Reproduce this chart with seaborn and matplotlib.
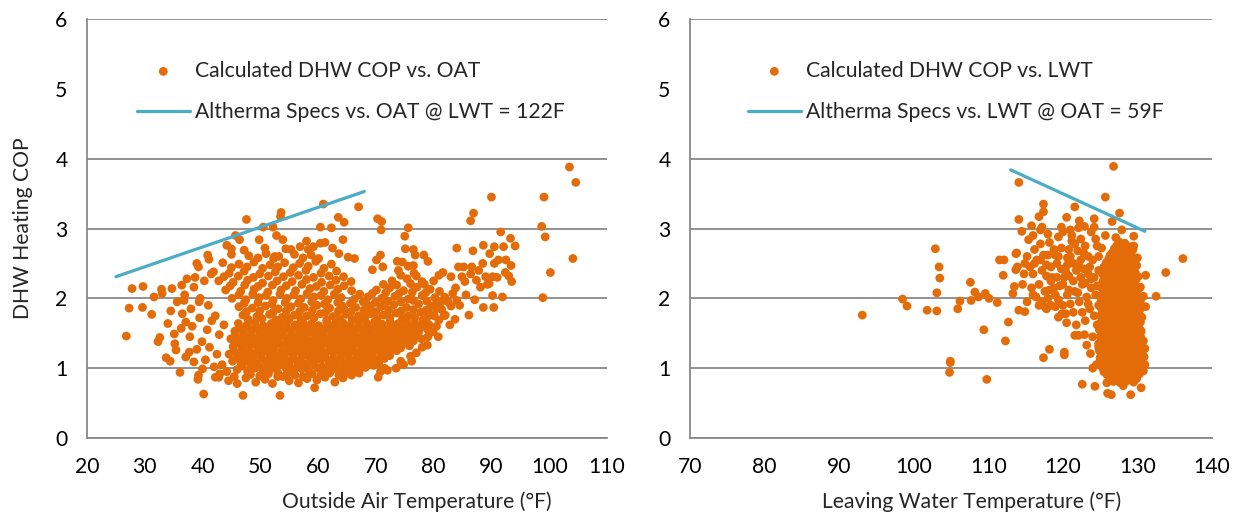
import matplotlib
matplotlib.use("Agg")
import matplotlib.pyplot as plt
import seaborn as sns
import pandas as pd

# ---------------- data ----------------
# Left panel: Calculated DHW COP vs. outside air temperature (OAT, F)
oat_outer = [
    (103.5, 3.88), (104.6, 3.66), (99.1, 3.45), (98.7, 3.03), (99.3, 2.88), (104.1, 2.57),
    (100.2, 2.37), (98.9, 2.01), (90.0, 3.45), (86.9, 3.22), (86.4, 3.11), (67.0, 3.31),
    (60.9, 3.35), (53.6, 3.23), (53.5, 3.17), (47.6, 3.13), (63.5, 3.16), (64.5, 3.09),
    (70.3, 3.14), (71.0, 3.10), (70.9, 2.98), (75.6, 3.01), (75.0, 2.89), (91.6, 2.95),
    (93.3, 2.86), (94.1, 2.75), (92.1, 2.74), (88.6, 2.76), (86.8, 2.68), (84.0, 2.72),
    (93.4, 2.47), (93.5, 2.24), (91.9, 2.02), (90.2, 2.04), (90.4, 1.87), (88.6, 1.87),
    (87.1, 1.98), (86.1, 1.76), (83.7, 1.70), (82.8, 1.62), (80.8, 1.45), (78.9, 1.33),
    (74.3, 1.10), (76.0, 1.17), (70.4, 0.87), (59.4, 0.72), (53.4, 0.61), (47.0, 0.61),
    (40.2, 0.63), (36.1, 0.94), (39.2, 0.84), (40.0, 0.99), (33.7, 1.15), (34.4, 1.10),
    (32.3, 1.38), (32.6, 1.44), (26.8, 1.46), (27.3, 1.86), (27.8, 2.14), (29.7, 2.17),
    (29.6, 1.87), (31.2, 1.77), (31.6, 2.02), (32.9, 2.13), (33.0, 2.07), (34.7, 2.14),
    (34.0, 1.64), (35.1, 1.49), (35.2, 1.35), (35.4, 1.26), (37.1, 1.66), (36.3, 1.57),
    (36.8, 1.97), (37.3, 2.28), (36.4, 2.19), (38.5, 2.16), (37.7, 1.23), (37.1, 1.16),
    (39.0, 1.27), (38.5, 1.09), (39.3, 0.90), (42.2, 0.87), (42.8, 0.87), (39.0, 2.50),
    (39.3, 2.45), (40.9, 2.62), (41.1, 2.56), (44.2, 2.76), (45.0, 2.71), (45.7, 2.90),
    (46.4, 2.84), (47.2, 2.69), (49.8, 2.84), (50.5, 3.02), (52.2, 3.02), (52.8, 2.90),
    (53.9, 2.84), (52.5, 2.60), (54.4, 2.71), (56.9, 2.74), (58.0, 2.82), (58.3, 2.70),
    (60.4, 3.02), (62.3, 3.01), (60.4, 2.79), (61.2, 2.80), (62.5, 2.72), (64.3, 2.84),
    (65.2, 2.59), (66.3, 2.57), (69.4, 2.41), (70.1, 2.55), (70.8, 2.62), (71.2, 2.45),
    (73.7, 2.53), (75.1, 2.71), (76.5, 2.70), (76.8, 2.62), (78.3, 2.62), (79.0, 2.53),
    (76.5, 2.47), (80.9, 2.33), (81.6, 2.37), (83.0, 2.31), (84.3, 2.45), (85.2, 2.45),
    (86.6, 2.45), (87.4, 2.26), (88.1, 2.16), (89.0, 2.31), (89.6, 2.21), (90.2, 2.31),
    (90.5, 2.50), (91.2, 2.55), (89.7, 2.64), (90.5, 2.74), (92.4, 2.37), (93.0, 2.32),
    (84.9, 2.31), (85.4, 2.24), (83.3, 2.07), (84.0, 1.97), (83.0, 1.89), (82.0, 1.76),
    (80.9, 1.69),
]
oat_core = [
    (47.5, 0.86), (49.2, 0.80), (50.8, 0.84), (52.1, 0.78), (53.9, 0.88), (55.0, 0.82),
    (56.6, 0.79), (58.1, 0.85), (59.8, 0.83), (61.2, 0.87), (62.9, 0.80), (64.3, 0.86),
    (65.8, 0.90), (67.1, 0.93),
    (46.0, 0.98), (47.8, 0.95), (49.1, 1.00), (50.5, 0.96), (51.7, 0.99), (53.0, 0.94),
    (54.4, 1.01), (55.8, 0.96), (57.2, 0.99), (58.5, 0.95), (60.0, 1.00), (61.4, 0.96),
    (62.7, 0.99), (64.1, 0.97), (65.5, 1.02), (66.9, 0.98), (68.2, 1.01), (69.6, 1.04),
    (45.2, 1.10), (46.7, 1.07), (48.1, 1.09), (49.5, 1.06), (50.9, 1.10), (52.3, 1.08),
    (53.6, 1.11), (55.0, 1.07), (56.4, 1.10), (57.8, 1.06), (59.1, 1.09), (60.5, 1.12),
    (61.9, 1.08), (63.2, 1.10), (64.6, 1.07), (66.0, 1.11), (67.4, 1.09), (68.8, 1.12),
    (70.1, 1.10), (71.5, 1.14),
    (44.6, 1.20), (46.1, 1.18), (47.4, 1.21), (48.8, 1.17), (50.2, 1.20), (51.6, 1.22),
    (52.9, 1.18), (54.3, 1.21), (55.7, 1.19), (57.1, 1.22), (58.4, 1.18), (59.8, 1.21),
    (61.2, 1.19), (62.6, 1.23), (63.9, 1.18), (65.3, 1.21), (66.7, 1.19), (68.1, 1.22),
    (69.4, 1.20), (70.8, 1.24), (72.2, 1.21), (73.6, 1.25),
    (45.3, 1.31), (46.8, 1.29), (48.2, 1.32), (49.6, 1.28), (51.0, 1.31), (52.4, 1.30),
    (53.7, 1.33), (55.1, 1.29), (56.5, 1.32), (57.9, 1.30), (59.2, 1.28), (60.6, 1.33),
    (62.0, 1.30), (63.4, 1.32), (64.7, 1.29), (66.1, 1.33), (67.5, 1.31), (68.9, 1.34),
    (70.2, 1.30), (71.6, 1.33), (73.0, 1.31), (74.4, 1.35), (75.8, 1.32),
    (44.9, 1.42), (46.4, 1.40), (47.8, 1.43), (49.2, 1.39), (50.6, 1.42), (52.0, 1.41),
    (53.3, 1.44), (54.7, 1.40), (56.1, 1.43), (57.5, 1.41), (58.8, 1.39), (60.2, 1.44),
    (61.6, 1.41), (63.0, 1.43), (64.3, 1.40), (65.7, 1.44), (67.1, 1.42), (68.5, 1.45),
    (69.8, 1.41), (71.2, 1.44), (72.6, 1.42), (74.0, 1.46), (75.4, 1.43), (76.8, 1.47),
    (45.6, 1.53), (47.1, 1.51), (48.5, 1.54), (49.9, 1.50), (51.3, 1.53), (52.7, 1.52),
    (54.0, 1.55), (55.4, 1.51), (56.8, 1.54), (58.2, 1.52), (59.5, 1.50), (60.9, 1.55),
    (62.3, 1.52), (63.7, 1.54), (65.0, 1.51), (66.4, 1.55), (67.8, 1.53), (69.2, 1.56),
    (70.5, 1.52), (71.9, 1.55), (73.3, 1.53), (74.7, 1.57), (76.1, 1.54), (77.5, 1.58),
    (46.2, 1.64), (47.7, 1.62), (49.1, 1.65), (50.5, 1.61), (51.9, 1.64), (53.3, 1.63),
    (54.6, 1.66), (56.0, 1.62), (57.4, 1.65), (58.8, 1.63), (60.1, 1.61), (61.5, 1.66),
    (62.9, 1.63), (64.3, 1.65), (65.6, 1.62), (67.0, 1.66), (68.4, 1.64), (69.8, 1.67),
    (71.1, 1.63), (72.5, 1.66), (73.9, 1.64), (75.3, 1.68), (76.7, 1.65), (78.1, 1.69),
    (47.0, 1.76), (49.4, 1.74), (51.6, 1.77), (53.8, 1.73), (55.9, 1.76), (58.1, 1.75),
    (60.4, 1.78), (62.6, 1.74), (64.8, 1.77), (67.0, 1.75), (69.1, 1.78), (71.3, 1.76),
    (73.5, 1.79), (75.6, 1.75), (77.8, 1.80), (79.5, 1.77),
    (46.3, 1.88), (48.6, 1.86), (50.9, 1.89), (53.1, 1.85), (55.3, 1.88), (57.6, 1.87),
    (59.8, 1.90), (62.0, 1.86), (64.2, 1.89), (66.5, 1.87), (68.7, 1.90), (70.9, 1.88),
    (73.1, 1.91), (75.3, 1.87), (77.4, 1.92), (79.6, 1.89), (81.2, 1.94),
    (45.1, 2.00), (47.5, 1.98), (49.8, 2.01), (52.2, 1.97), (54.6, 2.00), (57.0, 1.99),
    (59.3, 2.02), (61.7, 1.98), (64.0, 2.01), (66.3, 1.99), (68.6, 2.02), (71.0, 2.00),
    (73.3, 2.03), (75.6, 1.99), (78.0, 2.04), (80.2, 2.01),
    (44.0, 2.12), (46.6, 2.10), (48.9, 2.13), (51.3, 2.09), (53.6, 2.12), (56.1, 2.11),
    (58.6, 2.14), (61.0, 2.10), (63.4, 2.13), (65.8, 2.11), (70.1, 2.12), (72.4, 2.15),
    (74.8, 2.11), (77.1, 2.16), (79.4, 2.13),
    (42.8, 2.25), (45.3, 2.23), (47.8, 2.26), (50.4, 2.22), (52.9, 2.25), (55.5, 2.24),
    (58.0, 2.27), (60.6, 2.23), (63.1, 2.26), (65.7, 2.24), (72.8, 2.25), (75.4, 2.28),
    (78.0, 2.24),
    (41.9, 2.38), (44.6, 2.36), (47.2, 2.39), (49.9, 2.35), (52.6, 2.38), (55.2, 2.37),
    (57.9, 2.40), (60.5, 2.36), (63.2, 2.39), (73.9, 2.40), (76.6, 2.36),
    (43.5, 2.51), (46.3, 2.49), (48.9, 2.52), (51.7, 2.48), (54.2, 2.51), (56.8, 2.50),
    (59.6, 2.53), (62.3, 2.49), (74.6, 2.52),
    (45.0, 2.63), (48.0, 2.61), (51.0, 2.64), (53.2, 2.60), (55.9, 2.63), (58.8, 2.62),
    (63.6, 2.64),
]
oat_core_fill = [
    (48.3, 0.91), (49.9, 0.89), (51.4, 0.92), (53.0, 0.88), (54.6, 0.92), (56.0, 0.90),
    (57.4, 0.88), (59.0, 0.92), (60.5, 0.90), (62.0, 0.93), (63.6, 0.90), (65.0, 0.93),
    (66.5, 0.95),
    (46.9, 1.03), (48.4, 1.04), (49.8, 1.02), (51.2, 1.05), (52.5, 1.03), (53.8, 1.05),
    (55.1, 1.02), (56.5, 1.04), (57.9, 1.03), (59.3, 1.05), (60.7, 1.02), (62.0, 1.04),
    (63.4, 1.03), (64.8, 1.05), (66.2, 1.04), (67.6, 1.06), (69.0, 1.05), (70.5, 1.07),
    (45.9, 1.14), (47.4, 1.15), (48.8, 1.13), (50.2, 1.15), (51.6, 1.14), (53.0, 1.16),
    (54.3, 1.13), (55.7, 1.15), (57.1, 1.14), (58.5, 1.16), (59.8, 1.13), (61.2, 1.15),
    (62.6, 1.14), (63.9, 1.16), (65.3, 1.13), (66.7, 1.15), (68.1, 1.16), (69.5, 1.15),
    (70.9, 1.17), (72.4, 1.18),
    (45.4, 1.25), (46.9, 1.26), (48.2, 1.24), (49.6, 1.26), (51.0, 1.25), (52.3, 1.27),
    (53.7, 1.24), (55.0, 1.26), (56.4, 1.25), (57.8, 1.27), (59.1, 1.24), (60.5, 1.26),
    (61.9, 1.25), (63.3, 1.27), (64.6, 1.24), (66.0, 1.26), (67.4, 1.25), (68.8, 1.27),
    (70.1, 1.26), (71.5, 1.28), (72.9, 1.27), (74.3, 1.29),
    (46.0, 1.36), (47.5, 1.37), (48.9, 1.35), (50.3, 1.37), (51.7, 1.36), (53.0, 1.38),
    (54.4, 1.35), (55.8, 1.37), (57.2, 1.36), (58.5, 1.38), (59.9, 1.35), (61.3, 1.37),
    (62.7, 1.36), (64.0, 1.38), (65.4, 1.35), (66.8, 1.37), (68.2, 1.36), (69.5, 1.38),
    (70.9, 1.37), (72.3, 1.39), (73.7, 1.38), (75.1, 1.40), (76.5, 1.39),
    (45.7, 1.47), (47.1, 1.48), (48.5, 1.46), (49.9, 1.48), (51.3, 1.47), (52.6, 1.49),
    (54.0, 1.46), (55.4, 1.48), (56.8, 1.47), (58.1, 1.49), (59.5, 1.46), (60.9, 1.48),
    (62.3, 1.47), (63.6, 1.49), (65.0, 1.46), (66.4, 1.48), (67.8, 1.47), (69.1, 1.49),
    (70.5, 1.48), (71.9, 1.50), (73.3, 1.49), (74.7, 1.51), (76.1, 1.50), (77.4, 1.52),
    (46.4, 1.58), (47.8, 1.59), (49.2, 1.57), (50.6, 1.59), (52.0, 1.58), (53.3, 1.60),
    (54.7, 1.57), (56.1, 1.59), (57.5, 1.58), (58.9, 1.60), (60.2, 1.57), (61.6, 1.59),
    (63.0, 1.58), (64.4, 1.60), (65.7, 1.57), (67.1, 1.59), (68.5, 1.58), (69.9, 1.60),
    (71.2, 1.59), (72.6, 1.61), (74.0, 1.60), (75.4, 1.62), (76.8, 1.61), (78.2, 1.63),
    (47.9, 1.70), (50.3, 1.71), (52.7, 1.69), (55.0, 1.71), (57.0, 1.70), (59.3, 1.72),
    (61.5, 1.69), (63.7, 1.71), (65.9, 1.70), (68.1, 1.72), (70.2, 1.70), (72.4, 1.72),
    (74.6, 1.71), (76.7, 1.73), (78.8, 1.72),
    (47.6, 1.81), (49.9, 1.82), (52.2, 1.80), (54.5, 1.82), (56.8, 1.81), (59.0, 1.83),
    (61.3, 1.80), (63.5, 1.82), (65.7, 1.81), (67.9, 1.83), (70.0, 1.81), (72.2, 1.83),
    (74.4, 1.82), (76.5, 1.84), (78.7, 1.83), (80.5, 1.85),
    (47.2, 1.93), (49.6, 1.94), (52.0, 1.92), (54.3, 1.94), (56.6, 1.93), (58.9, 1.95),
    (61.1, 1.92), (63.4, 1.94), (65.6, 1.93), (67.8, 1.95), (69.9, 1.94), (72.1, 1.96),
    (74.3, 1.95), (76.5, 1.97), (78.8, 1.96),
    (79.9, 1.52), (79.2, 1.62), (80.1, 1.75), (81.4, 1.84), (80.6, 1.95), (81.9, 2.02),
    (77.9, 1.42), (78.9, 1.56), (66.8, 1.70), (64.5, 1.84), (69.0, 1.86), (71.5, 1.91),
]
oat_upper = [
    (46.3, 2.05), (48.7, 2.06), (51.0, 2.04), (53.4, 2.06), (55.8, 2.05), (58.1, 2.07),
    (60.5, 2.04), (62.8, 2.06), (67.2, 2.06), (69.4, 2.07), (71.7, 2.08), (74.0, 2.07),
    (76.3, 2.09), (78.6, 2.08),
    (44.8, 2.18), (47.3, 2.19), (49.6, 2.17), (52.1, 2.19), (54.5, 2.18), (57.2, 2.20),
    (59.7, 2.17), (62.1, 2.19), (64.5, 2.18), (71.3, 2.20), (73.6, 2.19), (76.0, 2.21),
    (78.4, 2.20),
    (43.7, 2.31), (46.2, 2.32), (48.8, 2.30), (51.4, 2.32), (54.0, 2.31), (56.6, 2.33),
    (59.2, 2.30), (61.9, 2.32), (64.4, 2.31), (74.3, 2.33), (77.0, 2.32),
    (45.0, 2.44), (47.7, 2.45), (50.4, 2.43), (53.0, 2.45), (55.7, 2.44), (58.3, 2.46),
    (61.0, 2.43), (75.6, 2.46),
    (49.6, 2.58), (52.3, 2.57), (57.4, 2.58), (60.1, 2.57),
    (50.8, 2.72), (55.3, 2.70), (59.2, 2.74),
]
oat_fringe = [
    (38.2, 1.60), (39.5, 1.72), (40.8, 1.55), (41.6, 1.68), (42.9, 1.48), (43.7, 1.62),
    (39.9, 1.38), (41.2, 1.30), (42.5, 1.20), (43.4, 1.05), (44.2, 0.95), (45.5, 0.88),
    (41.0, 1.90), (39.6, 2.00), (38.0, 1.85), (40.3, 2.25), (41.5, 2.35), (36.5, 1.78),
    (37.8, 1.45), (35.6, 1.95), (34.5, 1.82), (36.9, 2.05), (38.7, 2.30), (40.5, 1.12),
    (42.0, 1.02), (43.0, 0.92), (44.5, 0.82), (46.0, 0.78), (39.4, 1.95), (42.2, 1.75),
    (80.5, 1.60), (81.8, 1.75), (82.5, 1.95), (81.0, 2.10), (83.8, 2.15), (84.5, 1.90),
    (85.6, 2.05), (86.4, 2.35), (87.8, 2.40), (88.5, 2.50), (89.3, 2.20), (91.0, 2.30),
    (92.5, 2.55), (80.0, 2.25), (79.0, 1.45), (78.0, 1.30), (77.0, 1.22), (76.2, 1.10),
    (74.8, 1.05), (73.5, 1.00), (72.0, 0.97), (70.8, 0.95), (71.5, 1.00),
]

# Right panel: Calculated DHW COP vs. leaving water temperature (LWT, F)
lwt_outer = [
    (93.1, 1.76), (98.5, 1.99), (99.1, 1.89), (101.8, 1.83), (103.1, 1.82), (103.1, 2.08),
    (102.9, 2.71), (103.4, 2.45), (103.5, 2.29), (104.9, 1.10), (104.9, 1.08), (104.8, 0.94),
    (105.9, 1.85), (106.2, 1.96), (107.6, 2.23), (107.7, 1.97), (108.2, 2.09), (108.7, 2.02),
    (109.4, 1.55), (109.6, 2.07), (110.1, 2.00), (109.8, 0.84), (111.2, 1.94), (111.5, 2.55),
    (112.1, 2.55), (112.0, 2.33), (112.3, 1.39), (112.7, 1.66), (113.3, 2.07), (113.5, 2.17),
    (113.7, 2.64), (113.7, 2.41), (114.1, 3.66), (114.1, 3.13), (114.5, 2.96), (114.1, 1.83),
    (114.9, 1.81), (115.2, 1.95), (114.9, 2.50), (115.4, 2.84), (116.0, 2.90), (115.8, 3.04),
    (116.8, 3.17), (117.4, 3.35), (117.4, 3.24), (117.2, 3.02), (117.4, 1.15), (118.2, 1.27),
    (117.6, 1.88), (118.0, 2.00), (119.4, 1.73), (119.9, 1.78), (120.0, 1.90), (120.2, 1.23),
    (120.2, 1.19), (120.5, 1.65), (121.6, 3.31), (120.5, 3.16), (121.0, 2.98), (122.1, 3.01),
    (122.9, 3.03), (122.2, 3.11), (124.2, 3.14), (124.2, 3.02), (125.7, 3.45), (126.8, 3.89),
    (126.6, 3.10), (127.6, 3.22), (125.7, 2.90), (127.1, 2.87), (127.9, 2.98), (129.5, 2.89),
    (129.5, 2.75), (130.0, 2.58), (131.1, 2.33), (130.8, 2.03), (131.1, 1.88), (132.5, 2.03),
    (133.8, 2.37), (136.1, 2.57), (122.6, 0.77), (124.3, 0.74), (125.9, 0.79), (126.0, 0.64),
    (126.5, 0.62), (128.1, 0.75), (129.1, 0.62), (130.5, 0.72), (121.6, 1.47), (122.1, 1.47),
    (123.2, 1.33), (123.7, 1.21), (124.0, 1.00), (122.9, 1.48),
]
lwt_mid = [
    (116.5, 2.55), (117.2, 2.40), (118.0, 2.62), (118.6, 2.30), (119.2, 2.50), (119.8, 2.72),
    (120.4, 2.38), (121.0, 2.60), (121.6, 2.78), (122.2, 2.45), (122.8, 2.65), (123.4, 2.35),
    (124.0, 2.55), (124.6, 2.75), (116.8, 2.20), (117.6, 2.10), (118.4, 2.25), (119.0, 2.05),
    (119.6, 2.18), (120.2, 2.30), (120.8, 2.12), (121.4, 2.25), (122.0, 2.08), (122.6, 2.20),
    (123.2, 2.02), (123.8, 2.15), (118.2, 2.80), (119.4, 2.88), (120.0, 2.95), (121.2, 2.90),
    (122.4, 2.85), (123.0, 2.75), (124.4, 2.85), (115.6, 2.45), (115.2, 2.60), (116.2, 2.70),
    (117.0, 2.78), (117.8, 2.48), (118.8, 2.15), (120.6, 2.48), (121.8, 2.40), (122.4, 2.55),
    (123.6, 2.45), (124.8, 2.40), (116.4, 2.02), (117.2, 1.95), (115.8, 2.15), (114.6, 2.20),
    (113.9, 2.45), (113.8, 2.65), (119.4, 1.98), (121.0, 1.92), (122.2, 1.95), (123.6, 1.85),
    (124.2, 1.75), (124.6, 1.62), (123.0, 1.68), (121.8, 1.62), (124.0, 1.45), (124.8, 1.30),
    (125.0, 1.15), (124.5, 1.05), (118.8, 2.70), (120.8, 2.70), (116.0, 2.35), (114.8, 2.35),
    (117.0, 2.55), (117.8, 2.32), (118.4, 2.45), (119.0, 2.62), (119.8, 2.42), (120.6, 2.58),
    (121.4, 2.50), (122.0, 2.68), (122.8, 2.42), (123.4, 2.60), (124.2, 2.30), (124.8, 2.60),
    (125.2, 2.72), (116.2, 2.50), (117.4, 2.62), (118.2, 2.12), (119.2, 2.30), (120.0, 2.20),
    (120.8, 2.32), (121.6, 2.10), (122.4, 2.30), (123.0, 2.22), (123.8, 2.28), (124.4, 2.05),
    (124.8, 1.90), (123.4, 1.92), (122.6, 1.80), (121.4, 1.80), (120.4, 1.78), (119.0, 1.88),
    (118.4, 1.90), (117.8, 1.85), (116.8, 1.90), (116.0, 2.05), (124.6, 2.18), (120.6, 2.05),
    (121.2, 2.82), (123.8, 2.95), (119.4, 2.60), (118.0, 2.92), (117.0, 2.98), (119.8, 3.02),
]
lwt_core = [
    (126.8, 0.81), (127.7, 0.79), (128.6, 0.82), (129.5, 0.80),
    (125.9, 0.91), (126.8, 0.89), (127.7, 0.92), (128.6, 0.90), (129.5, 0.88), (130.3, 0.92),
    (125.3, 1.01), (126.2, 0.99), (127.1, 1.02), (128.0, 1.00), (128.9, 0.98), (129.8, 1.01),
    (130.6, 1.03),
    (125.0, 1.11), (125.9, 1.09), (126.8, 1.12), (127.7, 1.10), (128.6, 1.08), (129.5, 1.11),
    (130.4, 1.09), (131.0, 1.05),
    (125.4, 1.21), (126.3, 1.19), (127.2, 1.22), (128.1, 1.20), (129.0, 1.18), (129.9, 1.21),
    (130.7, 1.19),
    (125.2, 1.31), (126.1, 1.29), (127.0, 1.32), (127.9, 1.30), (128.8, 1.28), (129.7, 1.31),
    (130.6, 1.33),
    (125.5, 1.41), (126.4, 1.39), (127.3, 1.42), (128.2, 1.40), (129.1, 1.38), (130.0, 1.41),
    (130.8, 1.39),
    (125.3, 1.51), (126.2, 1.49), (127.1, 1.52), (128.0, 1.50), (128.9, 1.48), (129.8, 1.51),
    (130.5, 1.53),
    (125.6, 1.61), (126.5, 1.59), (127.4, 1.62), (128.3, 1.60), (129.2, 1.58), (130.1, 1.61),
    (125.4, 1.71), (126.3, 1.69), (127.2, 1.72), (128.1, 1.70), (129.0, 1.68), (129.9, 1.71),
    (130.6, 1.73),
    (125.7, 1.81), (126.6, 1.79), (127.5, 1.82), (128.4, 1.80), (129.3, 1.78), (130.2, 1.81),
    (125.5, 1.91), (126.4, 1.89), (127.3, 1.92), (128.2, 1.90), (129.1, 1.88), (130.0, 1.91),
    (125.8, 2.01), (126.7, 1.99), (127.6, 2.02), (128.5, 2.00), (129.4, 1.98), (130.3, 2.01),
    (125.6, 2.11), (126.5, 2.09), (127.4, 2.12), (128.3, 2.10), (129.2, 2.08), (130.0, 2.11),
    (125.9, 2.21), (126.8, 2.19), (127.7, 2.22), (128.6, 2.20), (129.5, 2.18),
    (125.7, 2.31), (126.6, 2.29), (127.5, 2.32), (128.4, 2.30), (129.3, 2.28), (130.1, 2.31),
    (126.0, 2.41), (126.9, 2.39), (127.8, 2.42), (128.7, 2.40), (129.5, 2.38),
    (125.8, 2.51), (126.7, 2.49), (127.6, 2.52), (128.5, 2.50), (129.3, 2.48),
    (126.3, 2.61), (127.2, 2.59), (128.1, 2.62), (129.0, 2.60),
    (126.9, 2.71), (127.8, 2.69), (128.6, 2.72), (129.4, 2.70),
    (127.5, 2.81), (128.3, 2.79),
]
lwt_core_fill = [
    (126.3, 0.85), (127.2, 0.86), (128.1, 0.84), (129.0, 0.86), (129.9, 0.85),
    (125.5, 0.95), (126.4, 0.96), (127.3, 0.94), (128.2, 0.96), (129.1, 0.95), (130.0, 0.97),
    (130.8, 0.96),
    (125.7, 1.05), (126.6, 1.06), (127.5, 1.04), (128.4, 1.06), (129.3, 1.05), (130.2, 1.07),
    (125.5, 1.15), (126.4, 1.16), (127.3, 1.14), (128.2, 1.16), (129.1, 1.15), (130.0, 1.17),
    (130.9, 1.16),
    (124.9, 1.25), (125.8, 1.26), (126.7, 1.24), (127.6, 1.26), (128.5, 1.25), (129.4, 1.27),
    (130.3, 1.26), (131.0, 1.28),
    (124.8, 1.35), (125.7, 1.36), (126.6, 1.34), (127.5, 1.36), (128.4, 1.35), (129.3, 1.37),
    (130.2, 1.36),
    (125.0, 1.45), (125.9, 1.46), (126.8, 1.44), (127.7, 1.46), (128.6, 1.45), (129.5, 1.47),
    (130.4, 1.46),
    (124.9, 1.55), (125.8, 1.56), (126.7, 1.54), (127.6, 1.56), (128.5, 1.55), (129.4, 1.57),
    (130.3, 1.56),
    (125.1, 1.65), (126.0, 1.66), (126.9, 1.64), (127.8, 1.66), (128.7, 1.65), (129.6, 1.67),
    (130.4, 1.66),
    (125.0, 1.75), (125.9, 1.76), (126.8, 1.74), (127.7, 1.76), (128.6, 1.75), (129.5, 1.77),
    (130.3, 1.76),
    (125.2, 1.85), (126.1, 1.86), (127.0, 1.84), (127.9, 1.86), (128.8, 1.85), (129.7, 1.87),
    (130.5, 1.86),
    (125.1, 1.95), (126.0, 1.96), (126.9, 1.94), (127.8, 1.96), (128.7, 1.95), (129.6, 1.97),
    (130.4, 1.96),
    (125.3, 2.05), (126.2, 2.06), (127.1, 2.04), (128.0, 2.06), (128.9, 2.05), (129.8, 2.07),
    (125.2, 2.15), (126.1, 2.16), (127.0, 2.14), (127.9, 2.16), (128.8, 2.15), (129.7, 2.17),
    (130.4, 2.16),
    (125.4, 2.25), (126.3, 2.26), (127.2, 2.24), (128.1, 2.26), (129.0, 2.25), (129.8, 2.27),
    (125.3, 2.35), (126.2, 2.36), (127.1, 2.34), (128.0, 2.36), (128.9, 2.35), (129.7, 2.37),
    (125.5, 2.45), (126.4, 2.46), (127.3, 2.44), (128.2, 2.46), (129.1, 2.45), (129.9, 2.47),
    (126.1, 2.55), (127.0, 2.56), (127.9, 2.54), (128.8, 2.56), (129.6, 2.55),
    (126.6, 2.65), (127.5, 2.66), (128.4, 2.64), (129.2, 2.66),
    (127.2, 2.75), (128.1, 2.76), (129.0, 2.74),
]

# Altherma specification lines
spec_oat_x = [25, 68]
spec_oat_cop = [2.31, 3.53]
spec_lwt_x = [113, 131]
spec_lwt_cop = [3.84, 2.96]

left_label_pts = "Calculated DHW COP vs. OAT"
left_label_line = "Altherma Specs vs. OAT @ LWT = 122F"
right_label_pts = "Calculated DHW COP vs. LWT"
right_label_line = "Altherma Specs vs. LWT @ OAT = 59F"
left_xlabel = "Outside Air Temperature (°F)"
right_xlabel = "Leaving Water Temperature (°F)"
ylabel = "DHW Heating COP"

# ---------------- style ----------------
sns.set_style("white")
plt.rcParams["font.family"] = ["Lato", "DejaVu Sans"]

ORANGE = "#E36C09"
AQUA = "#4BACC6"
GRID = "#898989"
FS = 15.2

df_oat = pd.DataFrame(oat_outer + oat_core + oat_core_fill + oat_upper + oat_fringe,
                      columns=["x", "cop"])
df_lwt = pd.DataFrame(lwt_outer + lwt_mid + lwt_core + lwt_core_fill, columns=["x", "cop"])
df_spec_oat = pd.DataFrame({"x": spec_oat_x, "cop": spec_oat_cop})
df_spec_lwt = pd.DataFrame({"x": spec_lwt_x, "cop": spec_lwt_cop})

fig = plt.figure(figsize=(12.39, 5.18), dpi=100)
ax1 = fig.add_axes([0.0702, 0.1544, 0.4197, 0.8089])
ax2 = fig.add_axes([0.5569, 0.1544, 0.4213, 0.8089])


def draw(ax, df, spec, lab_pts, lab_line, xlim, xlabel, xlabel_pos, leg_x):
    sns.scatterplot(data=df, x="x", y="cop", ax=ax, color=ORANGE, s=40,
                    edgecolor="none", linewidth=0, label=lab_pts, zorder=3)
    sns.lineplot(data=spec, x="x", y="cop", ax=ax, color=AQUA, linewidth=2.3,
                 label=lab_line, zorder=4, solid_capstyle="round")
    ax.set_xlim(*xlim)
    ax.set_ylim(0, 6)
    ax.set_xticks(range(xlim[0], xlim[1] + 1, 10))
    ax.set_yticks(range(0, 7))
    ax.set_axisbelow(True)
    ax.yaxis.grid(True, color=GRID, linewidth=1.3)
    ax.xaxis.grid(False)
    for s in ["top", "right"]:
        ax.spines[s].set_visible(False)
    for s in ["left", "bottom"]:
        ax.spines[s].set_color(GRID)
        ax.spines[s].set_linewidth(1.3)
    ax.tick_params(axis="both", which="major", direction="out", length=5,
                   width=1.2, color=GRID, labelsize=FS, labelcolor="black", pad=9)
    # the legend's white box hides the gridline at 5 in the reference
    ax.get_ygridlines()[5].set_visible(False)
    ax.set_xlabel(xlabel, fontsize=FS)
    ax.xaxis.set_label_coords(xlabel_pos, -0.127)
    ax.set_ylabel("")
    leg = ax.legend(loc="upper left", bbox_to_anchor=(leg_x, 0.900), frameon=False,
                    fontsize=FS, handlelength=2.5, handletextpad=0.25,
                    labelspacing=1.01, borderpad=0, borderaxespad=0)
    return leg


draw(ax1, df_oat, df_spec_oat, left_label_pts, left_label_line, (20, 110),
     left_xlabel, 0.635, 0.096)
draw(ax2, df_lwt, df_spec_lwt, right_label_pts, right_label_line, (70, 140),
     right_xlabel, 0.54, 0.111)

ax1.set_ylabel(ylabel, fontsize=FS)
ax1.yaxis.set_label_coords(-0.104, 0.5)

fig.savefig("out.png", dpi=100, facecolor="white")
